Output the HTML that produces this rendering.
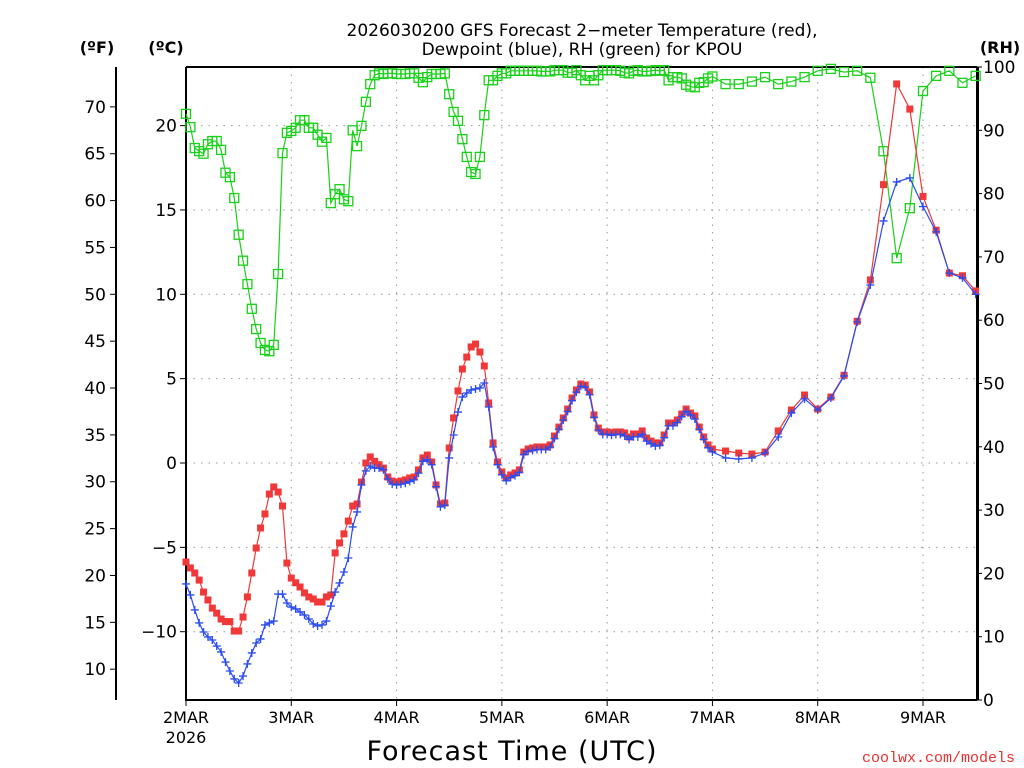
<!DOCTYPE html>
<html><head><meta charset="utf-8">
<style>
html,body{margin:0;padding:0;background:#fff;}
svg{display:block;font-family:"DejaVu Sans","Liberation Sans",sans-serif;}
</style></head>
<body>
<svg id="chart" width="1024" height="768" viewBox="0 0 1024 768" xmlns="http://www.w3.org/2000/svg">
<rect x="0" y="0" width="1024" height="768" fill="#fff"/>
<text x="582" y="36" font-size="17" text-anchor="middle" fill="#000">2026030200 GFS Forecast 2−meter Temperature (red),</text>
<text x="582" y="55" font-size="17" text-anchor="middle" fill="#000">Dewpoint (blue), RH (green) for KPOU</text>
<text x="97" y="53" font-size="16" font-weight="bold" text-anchor="middle">(ºF)</text>
<text x="166" y="53" font-size="16" font-weight="bold" text-anchor="middle">(ºC)</text>
<text x="1000" y="53" font-size="16" font-weight="bold" text-anchor="middle">(RH)</text>
<text x="512" y="760" font-size="27" text-anchor="middle" letter-spacing="1">Forecast Time (UTC)</text>
<text x="1015" y="762" font-size="15" text-anchor="end" fill="#e83030" font-family="Liberation Mono, monospace">coolwx.com/models</text>
<g id="grid"></g>
<g id="axes"></g>
<g id="series"></g>
</svg>
<script>
// ---- data ----
const hourlyHours = []; for (let h = 0; h <= 120; h++) hourlyHours.push(h);
const threeHourlyHours = []; for (let h = 123; h <= 180; h += 3) threeHourlyHours.push(h);
const dayLabels = ["2MAR","3MAR","4MAR","5MAR","6MAR","7MAR","8MAR","9MAR"];
const celsiusTicks = [20,15,10,5,0,-5,-10];
const fahrenheitTicks = [70,65,60,55,50,45,40,35,30,25,20,15,10];
const rhTicks = [100,90,80,70,60,50,40,30,20,10,0];

const tempHourly = [-5.87,-6.22,-6.52,-6.94,-7.65,-8.12,-8.6,-8.9,-9.25,-9.4,-9.4,-9.96,-9.96,-9.13,-7.94,-6.52,-5.04,-3.85,-3.02,-1.84,-1.42,-1.72,-2.55,-5.93,-6.82,-7.1,-7.35,-7.7,-7.94,-8.06,-8.24,-8.24,-7.94,-7.82,-5.33,-4.74,-4.2,-3.44,-2.55,-2.43,-1.13,0,0.36,0.1,
-0.1,
-0.3,-0.83,-1.07,-1.13,-1.07,-1.0,-0.89,-0.83,-0.41,0.3,0.47,0.06,-1.3,-2.43,-2.37,0.89,2.67,4.27,5.57,6.28,6.88,7.05,6.58,5.75,3.56,1.19,0.06,-0.53,-0.89,-0.71,-0.59,-0.41,0.65,0.83,0.89,0.95,0.95,0.95,1.07,1.6,2.13,2.67,3.2,3.85,4.33,4.68,4.62,4.21,2.85,2.07,1.84,
1.84,1.8,
1.84,1.84,1.78,1.54,1.72,1.72,1.9,1.48,1.3,1.19,1.19,1.66,2.37,2.37,2.55,2.9,3.2,2.96,2.79,2.13,1.54,1.07,0.83];
const temp3h = [0.71,0.59,0.53,0.65,1.9,3.14,4.03,3.2,3.91,5.2,8.4,10.85,16.5,22.47,20.98,15.8,13.8,11.26,11.1,10.2];

const dewHourly = [-7.17,-7.82,-8.71,-9.48,-10.02,-10.31,-10.49,-10.85,-11.2,-11.8,-12.33,-12.8,-13.04,-12.63,-11.91,-11.26,-10.67,-10.43,-9.6,-9.48,-9.37,-7.77,-7.77,-8.3,-8.54,-8.65,-8.83,-9.01,-9.25,-9.54,-9.66,-9.6,-9.37,-8.48,-7.65,-7.11,-6.46,-5.63,-3.79,-2.9,-1.3,-0.47,-0.18,-0.3,
-0.3,
-0.4,-0.95,-1.25,-1.3,-1.25,-1.2,-1.1,-1.0,-0.6,0.1,0.2,-0.1,-1.4,-2.6,-2.5,0.3,1.66,3.02,3.91,4.15,4.33,4.39,4.45,4.74,3.32,0.95,
-0.1,-0.7,-1.05,-0.85,-0.75,-0.55,0.5,0.7,0.75,0.8,0.8,0.8,0.95,1.45,2.0,2.55,3.05,3.7,4.2,4.55,4.5,4.05,2.7,1.95,1.7,
1.7,1.65,
1.7,1.7,1.6,1.4,1.55,1.55,1.7,1.3,1.15,1.0,1.05,1.5,2.2,2.2,2.4,2.75,3.05,2.85,2.6,2.0,1.4,0.9,0.65];
const dew3h = [0.3,0.24,0.3,0.59,1.54,2.96,3.8,3.14,3.85,5.16,8.36,10.55,14.35,16.66,16.9,15.2,13.7,11.26,10.97,10.0];

const rhHourly = [92.6,90.5,87.2,86.7,86.3,87.8,88.3,88.3,86.9,83.3,82.6,79.3,73.5,69.4,65.7,61.8,58.6,56.4,55.3,55.1,56.1,67.3,86.4,89.6,89.9,90.4,91.6,91.6,90.4,90.4,89.3,88.2,88.8,78.5,79.9,80.7,79.1,78.8,90,87.5,90.7,94.5,97.3,98.7,99,98.9,99,99,98.9,98.9,98.9,99,99,98.3,97.6,98.4,98.9,98.9,98.9,99,95.7,92.9,91.5,88.6,85.8,83.4,83.1,85.8,92.4,97.9,97.9,98.6,99,
99,99.4,99.4,99.4,99.4,99.4,99.4,99.4,99.3,99.3,99.3,99.5,99.5,99.5,99.1,99.1,99.5,98.7,97.9,98.6,97.9,98.7,99.5,99.5,99.5,99.5,99.4,99.1,99,99.4,99.5,99.3,99.3,99.4,99.5,99.4,99.5,97.9,98.4,98.4,98.2,97.2,96.9,96.8,97.5,97.6,98.2,98.5];
const rh3h = [97.3,97.3,97.7,98.4,97.3,97.7,98.4,99.4,99.7,99.2,99.4,98.3,86.7,69.8,77.7,96.2,98.6,99.4,97.5,98.6];

// ---- scales ----
const X0 = 186, X1 = 977, Y0 = 67, Y1 = 700;
const pxPerHour = (923 - 186) / 168;
const xOf = h => X0 + h * pxPerHour;
const cZeroY = 463, pxPerC = 16.87;
const yOfC = c => cZeroY - c * pxPerC;
const yOfF = f => yOfC((f - 32) * 5 / 9);
const yOfRH = r => Y1 - r * (Y1 - Y0) / 100;

const NS = "http://www.w3.org/2000/svg";
function mk(tag, attrs, parent) {
  const e = document.createElementNS(NS, tag);
  for (const k in attrs) e.setAttribute(k, attrs[k]);
  parent.appendChild(e);
  return e;
}
const grid = document.getElementById('grid');
const axes = document.getElementById('axes');
const series = document.getElementById('series');

// horizontal gridlines + celsius ticks
celsiusTicks.forEach(c => {
  const y = yOfC(c);
  const g = mk('line', {x1: X0, x2: X1, y1: y, y2: y, stroke: '#999', 'stroke-width': 1, 'stroke-dasharray': '1.5 6'}, grid);
  
  
  const t = mk('line', {x1: X0 - 6, x2: X0, y1: y, y2: y, stroke: '#000', 'stroke-width': 1}, axes);
  
  
  const lb = mk('text', {x: X0 - 9, y: y + 6, 'font-size': 17, 'text-anchor': 'end', fill: '#000'}, axes);
  lb.textContent = c < 0 ? '−' + Math.abs(c) : String(c);
  
  
});
// vertical gridlines + day labels
dayLabels.forEach((d, i) => {
  const x = xOf(i * 24);
  if (i > 0) {
    const g = mk('line', {x1: x, x2: x, y1: Y0, y2: Y1, stroke: '#999', 'stroke-width': 1, 'stroke-dasharray': '1.5 6'}, grid);
    
    
  }
  const t = mk('line', {x1: x, x2: x, y1: Y1, y2: Y1 + 6, stroke: '#000', 'stroke-width': 1}, axes);
  
  
  const lb = mk('text', {x: x, y: Y1 + 23, 'font-size': 16, 'text-anchor': 'middle'}, axes);
  lb.textContent = d;
  
  
});
const yr = mk('text', {x: xOf(0), y: Y1 + 43, 'font-size': 16, 'text-anchor': 'middle'}, axes);
yr.textContent = '2026';



// fahrenheit axis
const fAxis = mk('line', {x1: 116, x2: 116, y1: Y0, y2: Y1, stroke: '#000', 'stroke-width': 2}, axes);


fahrenheitTicks.forEach(f => {
  const y = yOfF(f);
  const t = mk('line', {x1: 110, x2: 116, y1: y, y2: y, stroke: '#000', 'stroke-width': 1}, axes);
  
  
  const lb = mk('text', {x: 106, y: y + 6, 'font-size': 17, 'text-anchor': 'end'}, axes);
  lb.textContent = String(f);
  
  
});
// rh axis
rhTicks.forEach(r => {
  const y = yOfRH(r);
  const t = mk('line', {x1: X1, x2: X1 + 5, y1: y, y2: y, stroke: '#000', 'stroke-width': 1}, axes);
  
  
  const lb = mk('text', {x: X1 + 6, y: y + 6, 'font-size': 17, 'text-anchor': 'start'}, axes);
  lb.textContent = String(r);
  
  
});
// plot frame
const fr = mk('path', {d: `M${X0},${Y0} H${X1} M${X0},${Y0} V${Y1} H${X1}`, fill: 'none', stroke: '#000', 'stroke-width': 2}, axes);


const rAxis = mk('line', {x1: X1 + 0.5, x2: X1 + 0.5, y1: Y0, y2: Y1, stroke: '#000', 'stroke-width': 3}, axes);



// series
const allHours = hourlyHours.concat(threeHourlyHours);
function drawSeries(values, yFn, color, kind, name) {
  const g = mk('g', {}, series);
  
  
  const pts = values.map((v, i) => [xOf(allHours[i]), yFn(v)]);
  const line = mk('polyline', {points: pts.map(p => p[0].toFixed(1) + ',' + p[1].toFixed(1)).join(' '), fill: 'none', stroke: color, 'stroke-width': 1.2}, g);
  
  
  pts.forEach(p => {
    let m;
    if (kind === 'filled') {
      m = mk('rect', {x: p[0] - 3.5, y: p[1] - 3.5, width: 7, height: 7, fill: color}, g);
    } else if (kind === 'open') {
      m = mk('rect', {x: p[0] - 4.5, y: p[1] - 4.5, width: 9, height: 9, fill: 'none', stroke: color, 'stroke-width': 1.3}, g);
    } else {
      m = mk('path', {d: `M${p[0] - 4},${p[1]} H${p[0] + 4} M${p[0]},${p[1] - 4} V${p[1] + 4}`, stroke: color, 'stroke-width': 1.3}, g);
    }
    
    
  });
}
drawSeries(rhHourly.concat(rh3h), yOfRH, '#19d119', 'open', 'rh-series');
drawSeries(tempHourly.concat(temp3h), yOfC, '#f03838', 'filled', 'temperature-series');
drawSeries(dewHourly.concat(dew3h), yOfC, '#2a4cf0', 'plus', 'dewpoint-series');
</script>
</body></html>
